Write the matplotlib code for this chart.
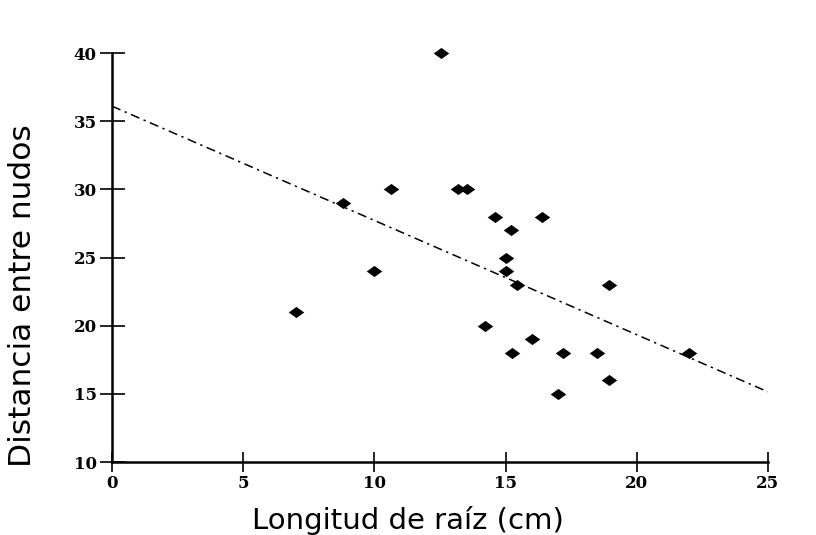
import matplotlib
matplotlib.use("Agg")
import matplotlib.pyplot as plt
import numpy as np
from matplotlib.path import Path

# Root length (cm) and internode distance for each plant
longitud_raiz = [12.55, 8.8, 10.65, 13.2, 13.55, 14.6, 16.4, 15.2, 15.0, 10.0,
                 15.0, 15.45, 18.95, 7.0, 14.2, 16.0, 15.25, 17.2, 18.5, 22.0,
                 18.95, 17.0]
distancia_nudos = [40, 29, 30, 30, 30, 28, 28, 27, 25, 24,
                   24, 23, 23, 21, 20, 19, 18, 18, 18, 18,
                   16, 15]

# Fitted trend line: intercept and slope
intercepto = 36.1
pendiente = -0.838

x_ticks = [0, 5, 10, 15, 20, 25]
y_ticks = [10, 15, 20, 25, 30, 35, 40]

fig = plt.figure(figsize=(8.16, 5.35), dpi=100)
ax = fig.add_axes([0.1373, 0.1364, 0.8037, 0.7645])

# flattened diamond marker
rombo = Path([(-1, 0), (0, 0.72), (1, 0), (0, -0.72), (-1, 0)],
             [Path.MOVETO, Path.LINETO, Path.LINETO, Path.LINETO, Path.CLOSEPOLY])

ax.scatter(longitud_raiz, distancia_nudos, marker=rombo, s=125,
           color="black", zorder=3, linewidths=0, clip_on=False)

xl = np.array([0, 25])
ax.plot(xl, intercepto + pendiente * xl, color="black", lw=1.1,
        linestyle=(0, (6, 3, 1.5, 3)))

ax.set_xlim(0, 25)
ax.set_ylim(10, 40)
ax.set_xticks(x_ticks)
ax.set_yticks(y_ticks)

for s in ["top", "right"]:
    ax.spines[s].set_visible(False)
for s in ["left", "bottom"]:
    ax.spines[s].set_linewidth(1.8)

ax.tick_params(axis="y", direction="inout", length=18, width=1.2, pad=2)
ax.tick_params(axis="x", direction="inout", length=14.5, width=1.2, pad=2)

for lab in ax.get_xticklabels() + ax.get_yticklabels():
    lab.set_fontfamily(["DejaVu Serif"])
    lab.set_fontweight("bold")
    lab.set_fontsize(12)

fig.text(0.5, 1 - 529 / 535, "Longitud de raíz (cm)", fontsize=21,
         family=["DejaVu Sans"], ha="center", va="baseline")
fig.text(0.027, 1 - 296 / 535, "Distancia entre nudos", fontsize=22.5,
         family=["DejaVu Sans"], rotation=90,
         ha="center", va="center")

fig.savefig("out.png", dpi=100, facecolor="white")
